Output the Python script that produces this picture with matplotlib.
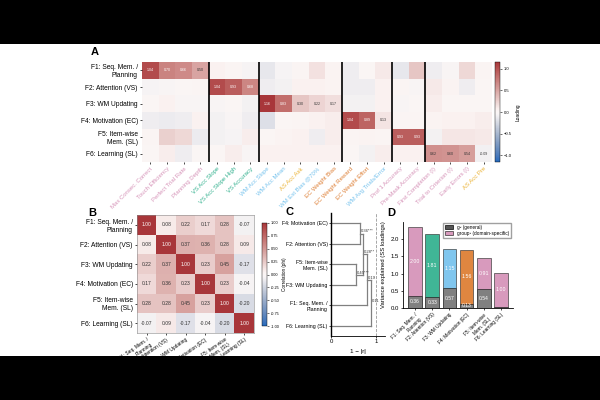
import matplotlib
matplotlib.use("Agg")
import matplotlib.pyplot as plt
import numpy as np
import seaborn as sns
from matplotlib.patches import Rectangle, Patch

plt.rcParams['font.family'] = ['Liberation Sans', 'DejaVu Sans']

# factor names
factors = ["F1: Seq. Mem. /\nPlanning", "F2: Attention (VS)", "F3: WM Updating",
           "F4: Motivation (EC)", "F5: Item-wise\nMem. (SL)", "F6: Learning (SL)"]

# panel A: task metrics and their loadings
metrics = ["Max Consec. Correct", "Touch Efficiency", "Perfect Trial Rate", "Planning Depth",
           "VS Acc Slope", "VS Acc Slope High", "VS Accuracy",
           "WM Acc Slope", "WM Acc Mean", "AS Acc Ask", "WM Est Bias @70%", "EC Weight Bias",
           "EC Weight Reward", "EC Weight Effort", "WM Avg Trials/Error",
           "Prof 1 Accuracy", "Pre-Mask Accuracy",
           "First Completion (I)", "Trial to Criterion (I)", "Early Errors (I)", "AS Acc Pre"]
metric_domain = ["SL", "SL", "SL", "SL", "VS", "VS", "VS", "WM", "WM", "AS", "WM", "EC",
                 "EC", "EC", "WM", "SL", "SL", "SL", "SL", "SL", "AS"]
group_sizes = [4, 3, 5, 3, 2, 4]

loadings = np.array([
    [1.04, 0.70, 0.66, 0.50, 0.05, 0.02, -0.05, -0.15, -0.05, 0.02, 0.15, 0.03, -0.10, 0.00, 0.10, -0.15, 0.30, -0.10, -0.03, 0.20, 0.02],
    [-0.05, -0.03, 0.00, 0.02, 1.04, 0.93, 0.68, -0.10, -0.08, 0.05, 0.05, 0.03, -0.10, -0.10, 0.05, 0.02, -0.03, 0.10, 0.03, -0.10, 0.00],
    [0.00, 0.05, -0.03, -0.03, -0.03, 0.00, -0.08, 1.16, 0.83, 0.30, 0.22, 0.17, -0.08, -0.08, 0.05, -0.03, 0.00, 0.08, 0.00, 0.00, 0.00],
    [-0.10, -0.12, -0.10, 0.05, -0.08, -0.03, -0.10, -0.20, 0.00, 0.02, 0.05, 0.08, 1.04, 0.89, 0.13, 0.02, 0.02, 0.03, 0.05, 0.05, 0.08],
    [0.02, 0.25, 0.20, -0.12, -0.08, -0.05, 0.08, 0.00, 0.03, 0.05, -0.10, 0.08, 0.02, 0.03, 0.02, 0.93, 0.93, -0.08, 0.12, 0.12, 0.10],
    [0.00, 0.08, -0.10, 0.00, 0.00, 0.08, -0.03, 0.05, 0.05, 0.05, 0.05, 0.05, 0.00, -0.08, 0.08, 0.05, 0.05, 0.62, 0.60, 0.54, -0.09],
])

# panel B: factor correlations
corr = np.array([
    [1.00, 0.08, 0.22, 0.17, 0.28, -0.07],
    [0.08, 1.00, 0.37, 0.36, 0.28, 0.09],
    [0.22, 0.37, 1.00, 0.23, 0.45, -0.17],
    [0.17, 0.36, 0.23, 1.00, 0.23, -0.04],
    [0.28, 0.28, 0.45, 0.23, 1.00, -0.20],
    [-0.07, 0.09, -0.17, -0.04, -0.20, 1.00],
])

# panel C: dendrogram (leaves 0-5, clusters 6+)
leaf_order = [3, 1, 4, 2, 0, 5]
merge_pairs = [(3, 1), (4, 2), (6, 7), (8, 0), (9, 5)]
merge_r = [0.36, 0.45, 0.28, 0.19, 0.11]
merge_sig = ["***", "***", "**", "", ""]

# panel D: variance explained
g_ss = [0.36, 0.33, 0.57, 0.13, 0.54, 0.03]
group_ss = [2.00, 1.81, 1.15, 1.56, 0.91, 1.00]

domain_colors = {"SL": "#CC79A7", "VS": "#009E73", "WM": "#56B4E9", "AS": "#E69F00", "EC": "#D55E00"}
bar_colors = ["#CC79A7", "#009E73", "#56B4E9", "#D55E00", "#CC79A7", "#CC79A7"]

cmap = sns.color_palette("vlag", as_cmap=True)

fig = plt.figure(figsize=(6, 4), dpi=100)
fig.patch.set_facecolor("black")
fig.add_artist(Rectangle((0, 0.11), 1, 0.78, transform=fig.transFigure,
                         facecolor="white", edgecolor="none", zorder=-10))

# ---------------- A ----------------
axA = fig.add_axes([142/600, 1-162/400, 350/600, 100/400])
vA = 1.16
imA = axA.imshow(loadings, cmap=cmap, vmin=-vA, vmax=vA, aspect="auto")
bounds = np.cumsum([0] + group_sizes)
for f in range(len(factors)):
    for j in range(bounds[f], bounds[f+1]):
        v = loadings[f, j]
        axA.text(j, f, f"{v:.2f}", ha="center", va="center", fontsize=2.6,
                 color="white" if abs(v) > 0.65 else "#333333")
for b in bounds[1:-1]:
    axA.axvline(b - 0.5, color="black", lw=1.2)
axA.set_yticks(range(len(factors)))
axA.set_yticklabels(factors, fontsize=4.8)
axA.set_xticks(range(len(metrics)))
axA.set_xticklabels(metrics, rotation=45, ha="right", rotation_mode="anchor", fontsize=4.3)
for lab, d in zip(axA.get_xticklabels(), metric_domain):
    lab.set_color(domain_colors[d])
    lab.set_alpha(0.8)
axA.tick_params(length=1.5, width=0.5, pad=1.5)
for s in axA.spines.values():
    s.set_visible(False)
caxA = fig.add_axes([495/600, 1-162/400, 5/600, 100/400])
cbA = fig.colorbar(imA, cax=caxA, ticks=[1.0, 0.5, 0.0, -0.5, -1.0])
cbA.ax.tick_params(labelsize=3, length=1.5, width=0.4, pad=1)
cbA.set_label("Loading", fontsize=3.5, labelpad=3)
cbA.outline.set_linewidth(0.3)

# ---------------- B ----------------
axB = fig.add_axes([137/600, 1-333/400, 117/600, 118/400])
imB = axB.imshow(corr, cmap=cmap, vmin=-1, vmax=1, aspect="auto")
for i in range(corr.shape[0]):
    for j in range(corr.shape[1]):
        v = corr[i, j]
        axB.text(j, i, f"{v:.2f}", ha="center", va="center", fontsize=3.6,
                 color="white" if abs(v) > 0.6 else "#333333")
axB.set_yticks(range(len(factors)))
axB.set_yticklabels(factors, fontsize=4.8)
axB.set_xticks(range(len(factors)))
axB.set_xticklabels(factors, rotation=35, ha="right", rotation_mode="anchor", fontsize=3.5)
axB.tick_params(length=1.5, width=0.5, pad=1.5)
for s in axB.spines.values():
    s.set_linewidth(0.4)
    s.set_color("#888888")
caxB = fig.add_axes([262/600, 1-326/400, 5/600, 103/400])
cbB = fig.colorbar(imB, cax=caxB, ticks=np.linspace(-1, 1, 9))
cbB.ax.set_yticklabels([f"{t:.2f}" for t in np.linspace(-1, 1, 9)])
cbB.ax.tick_params(labelsize=2.8, length=1.5, width=0.4, pad=1)
cbB.set_label("Correlation (phi)", fontsize=3.3, labelpad=2)
cbB.outline.set_linewidth(0.3)

# ---------------- C ----------------
axC = fig.add_axes([331/600, 1-336/400, 54/600, 123/400])
ypos = {leaf: 55 - 10*k for k, leaf in enumerate(leaf_order)}
xpos = {leaf: 0.0 for leaf in leaf_order}
for k, ((a, b), r, sig) in enumerate(zip(merge_pairs, merge_r, merge_sig)):
    h = 1 - r
    axC.plot([xpos[a], h], [ypos[a], ypos[a]], color="#808080", lw=0.9)
    axC.plot([xpos[b], h], [ypos[b], ypos[b]], color="#808080", lw=0.9)
    axC.plot([h, h], [ypos[a], ypos[b]], color="#808080", lw=0.9)
    cid = len(leaf_order) + k
    ypos[cid] = (ypos[a] + ypos[b]) / 2
    xpos[cid] = h
    axC.text(h + 0.02, ypos[cid], f"{r:.2f}{sig}", fontsize=3.0, ha="left", va="bottom",
             color="#333333")
axC.axvline(1.0, color="#999999", lw=0.6, ls="--")
axC.set_xlim(0, 1.2)
axC.set_ylim(0, 60)
axC.set_yticks([ypos[l] for l in leaf_order])
axC.set_yticklabels([factors[l] for l in leaf_order], fontsize=3.8)
axC.set_xticks([0, 1])
axC.set_xticklabels(["0", "1"], fontsize=4.3)
axC.set_xlabel("1 − |r|", fontsize=4.5, labelpad=3)
axC.tick_params(length=1.5, width=0.5, pad=1)
axC.spines["top"].set_visible(False)
axC.spines["right"].set_visible(False)
axC.spines["left"].set_linewidth(1.0)
axC.spines["bottom"].set_linewidth(0.6)

# ---------------- D ----------------
axD = fig.add_axes([403/600, 1-308/400, 110/600, 86/400])
x = np.arange(len(factors))
axD.bar(x, g_ss, width=0.8, color="#808080", edgecolor="#333333", lw=0.6)
axD.bar(x, group_ss, bottom=g_ss, width=0.8, color=bar_colors, alpha=0.75,
        edgecolor="#333333", lw=0.6)
for i in range(len(factors)):
    axD.text(x[i], g_ss[i] + group_ss[i] / 2, f"{group_ss[i]:.2f}", ha="center", va="center",
             fontsize=3.8, color="white")
    if g_ss[i] > 0.1:
        axD.text(x[i], g_ss[i] / 2, f"{g_ss[i]:.2f}", ha="center", va="center",
                 fontsize=3.6, color="white")
axD.set_xlim(-0.7, 5.7)
axD.set_ylim(0, 2.5)
axD.set_yticks([0, 0.5, 1.0, 1.5, 2.0])
axD.set_yticklabels(["0.0", "0.5", "1.0", "1.5", "2.0"])
axD.set_xticks(x)
axD.set_xticklabels(factors, rotation=45, ha="right", rotation_mode="anchor", fontsize=3.4)
axD.tick_params(axis="y", labelsize=4.3)
axD.tick_params(length=1.5, width=0.5, pad=1.5)
axD.set_ylabel("Variance explained (SS loadings)", fontsize=4.2, labelpad=3)
axD.spines["top"].set_visible(False)
axD.spines["right"].set_visible(False)
axD.spines["left"].set_linewidth(0.6)
axD.spines["bottom"].set_linewidth(0.6)
axD.legend(handles=[Patch(facecolor="#555555", edgecolor="#222222", lw=0.6, label="g² (general)"),
                    Patch(facecolor="#CC79A7", alpha=0.75, edgecolor="#222222", lw=0.6,
                          label="group² (domain-specific)")],
           loc="upper right", fontsize=3.4, frameon=True, handlelength=1.6, handleheight=0.8,
           borderpad=0.4, labelspacing=0.3, fancybox=False, edgecolor="#888888",
           bbox_to_anchor=(1.0, 1.02))

# panel letters
fig.text(91/600, 1-52/400, "A", fontsize=8, fontweight="bold", va="center")
fig.text(88/600, 1-213/400, "B", fontsize=8, fontweight="bold", va="center")
fig.text(286/600, 1-212/400, "C", fontsize=8, fontweight="bold", va="center")
fig.text(387/600, 1-213/400, "D", fontsize=8, fontweight="bold", va="center")

fig.savefig("out.png", dpi=100, facecolor=fig.get_facecolor())
